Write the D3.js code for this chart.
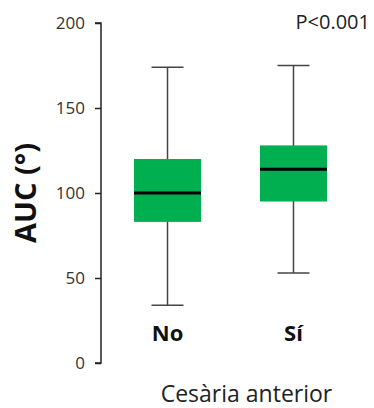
<!DOCTYPE html>
<html>
<head>
<meta charset="utf-8">
<script src="https://cdn.jsdelivr.net/npm/d3@7"></script>
<style>
  html, body { margin: 0; padding: 0; background: #fff; }
  svg { display: block; }
  text { font-family: "Open Sans", "Noto Sans", sans-serif; }
</style>
</head>
<body>
<svg id="chart" width="374" height="408"></svg>
<script>
// Box-plot summaries of AUC (°) by previous caesarean section
const categories = ["No", "Sí"];
const whiskerLow  = [34, 53];
const q1          = [83, 95];
const medians     = [100, 114];
const q3          = [120, 128];
const whiskerHigh = [174, 175];
const yTicks = [0, 50, 100, 150, 200];

const svg = d3.select("#chart");
const axisX = 101;

const y = d3.scaleLinear().domain([0, 200]).range([363, 23]);
const x = d3.scalePoint().domain(categories).range([101, 360]).padding(0.528);

const boxes = categories.map((c, i) => ({
  cat: c, lo: whiskerLow[i], q1: q1[i], med: medians[i], q3: q3[i], hi: whiskerHigh[i]
}));

// Left axis
const yAxis = d3.axisLeft(y).tickValues(yTicks).tickSize(6).tickPadding(10);
const ag = svg.append("g").attr("transform", `translate(${axisX},0)`).call(yAxis);
ag.select(".domain").attr("stroke", "#222").attr("stroke-width", 1.5).attr("d", `M-6,${y(200)}H0V${y(0)}H-6`);
ag.selectAll(".tick line").attr("stroke", "#222").attr("stroke-width", 1.5);
ag.selectAll(".tick text").attr("font-size", 17).attr("fill", "#333")
  .style("font-family", "'Open Sans', sans-serif");

const boxW = 67, capW = 32;
const cx = d => x(d.cat);

const g = svg.append("g");
const items = g.selectAll("g.box").data(boxes).join("g").attr("class", "box");

// whiskers
items.append("line")
  .attr("x1", cx).attr("x2", cx)
  .attr("y1", d => y(d.hi)).attr("y2", d => y(d.lo))
  .attr("stroke", "#444").attr("stroke-width", 1.5);
items.append("line")
  .attr("x1", d => cx(d) - capW / 2).attr("x2", d => cx(d) + capW / 2)
  .attr("y1", d => y(d.hi)).attr("y2", d => y(d.hi))
  .attr("stroke", "#444").attr("stroke-width", 1.5);
items.append("line")
  .attr("x1", d => cx(d) - capW / 2).attr("x2", d => cx(d) + capW / 2)
  .attr("y1", d => y(d.lo)).attr("y2", d => y(d.lo))
  .attr("stroke", "#444").attr("stroke-width", 1.5);

// interquartile box
items.append("rect")
  .attr("x", d => cx(d) - boxW / 2).attr("width", boxW)
  .attr("y", d => y(d.q3)).attr("height", d => y(d.q1) - y(d.q3))
  .attr("fill", "#00b050");

// median
items.append("line")
  .attr("x1", d => cx(d) - boxW / 2).attr("x2", d => cx(d) + boxW / 2)
  .attr("y1", d => y(d.med)).attr("y2", d => y(d.med))
  .attr("stroke", "#000").attr("stroke-width", 3);

// category labels
items.append("text")
  .attr("x", cx).attr("y", 341)
  .attr("text-anchor", "middle")
  .attr("font-size", 22).attr("font-weight", "bold").attr("fill", "#111")
  .text(d => d.cat);

// axis titles
svg.append("text")
  .attr("x", 246.5).attr("y", 402)
  .attr("text-anchor", "middle")
  .attr("font-size", 23).attr("fill", "#222")
  .text("Cesària anterior");

svg.append("text")
  .attr("transform", "translate(36,193) rotate(-90)")
  .attr("text-anchor", "middle")
  .attr("font-size", 29).attr("font-weight", "bold").attr("fill", "#111")
  .text("AUC (°)");

svg.append("text")
  .attr("x", 370).attr("y", 29)
  .attr("text-anchor", "end")
  .attr("font-size", 20).attr("fill", "#222")
  .text("P<0.001");
</script>
</body>
</html>
